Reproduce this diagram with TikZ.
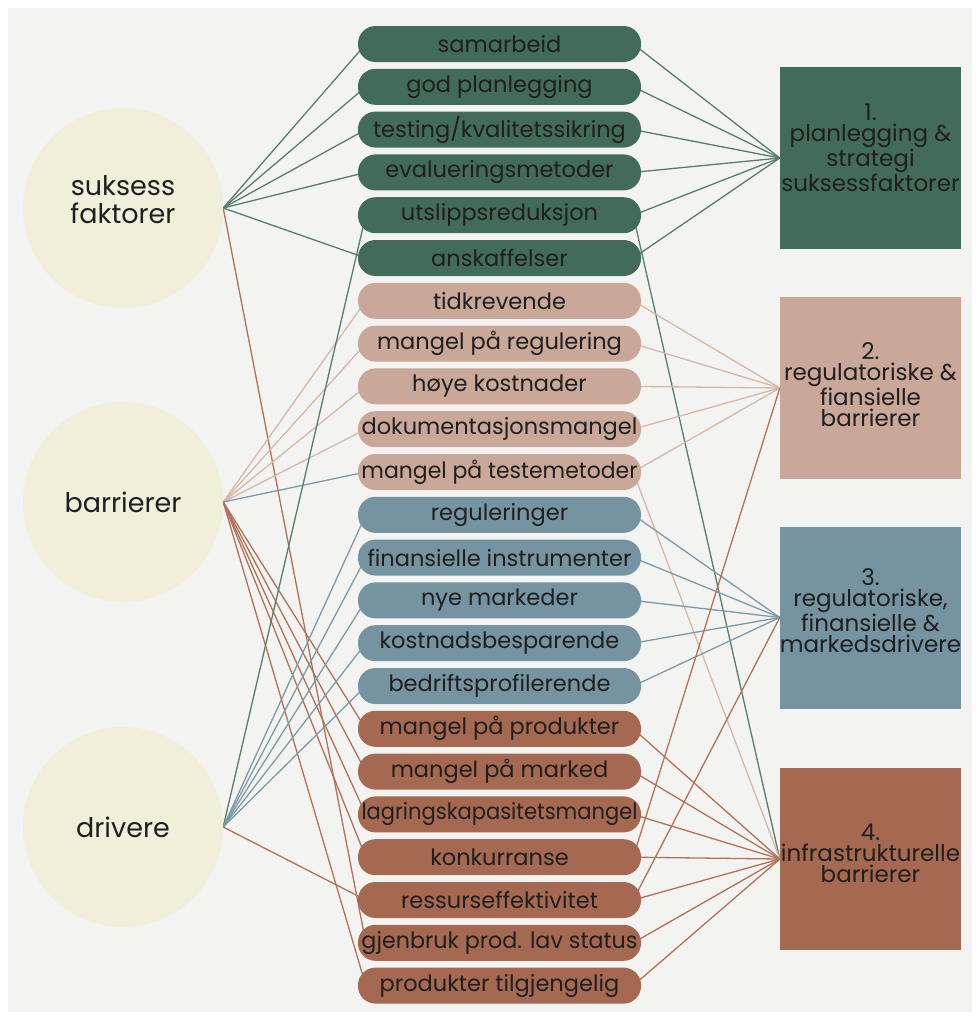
\documentclass[tikz,border=0pt]{standalone}
\usepackage{fontspec}
\setmainfont{Poppins}
\pgfdeclarelayer{bg}
\pgfdeclarelayer{lines}
\pgfsetlayers{bg,lines,main}
\definecolor{gr}{HTML}{426B59}
\definecolor{tn}{HTML}{C9A899}
\definecolor{bl}{HTML}{7593A1}
\definecolor{br}{HTML}{A56850}
\definecolor{lgr}{HTML}{587C6D}
\definecolor{ltn}{HTML}{D6B7A8}
\definecolor{lbl}{HTML}{7E9AA8}
\definecolor{lbr}{HTML}{B07259}
\definecolor{cream}{HTML}{F1EFD9}
\definecolor{paper}{HTML}{F3F4F2}
\definecolor{txt}{HTML}{1F1F1F}
\newcommand\fitw[1]{\setbox0\hbox{#1}\ifdim\wd0>276pt\resizebox{276pt}{\ht0}{#1}\else\box0\fi}
\tikzset{
  pill/.style={rectangle, rounded corners=17.5pt, minimum width=283pt, minimum height=36pt, inner sep=0pt, text=txt, font=\fontsize{22.5}{22}\selectfont},
  circ/.style={circle, fill=cream, minimum size=200pt, inner sep=0pt},
  circtxt/.style={align=center, text=txt, inner sep=0pt, font=\fontsize{27}{28}\selectfont},
  bigbox/.style={rectangle, minimum width=181pt, minimum height=182pt, inner sep=0pt},
  boxtxt/.style={align=center, text=txt, inner sep=0pt, font=\fontsize{23}{21}\selectfont},
  cg/.style={draw=lgr, line width=1.3pt},
  ct/.style={draw=ltn, line width=1.3pt},
  cb/.style={draw=lbl, line width=1.3pt},
  cr/.style={draw=lbr, line width=1.3pt}
}
\begin{document}
\begin{tikzpicture}[x=1pt,y=-1pt]
\useasboundingbox (0,0) rectangle (979,1018);
\begin{pgfonlayer}{bg}
\fill[white] (0,0) rectangle (979,1018);
\fill[paper] (8,8) rectangle (972,1012);
\end{pgfonlayer}
% circles
\node[circ] (suk) at (123,208) {};
\node[circ] (bar) at (123,502) {};
\node[circ] (dri) at (123,827) {};
\node[circtxt] (sukt) at (123,200) {suksess\\faktorer};
\node[circtxt] (bart) at (123,502) {barrierer};
\node[circtxt] (drit) at (123,827) {drivere};
% pills
\foreach \i/\t/\c in {0/samarbeid/gr, 1/god planlegging/gr, 2/{testing/kvalitetssikring}/gr, 3/evalueringsmetoder/gr, 4/utslippsreduksjon/gr, 5/anskaffelser/gr,
  6/tidkrevende/tn, 7/mangel på regulering/tn, 8/høye kostnader/tn, 9/dokumentasjonsmangel/tn, 10/mangel på testemetoder/tn,
  11/reguleringer/bl, 12/finansielle instrumenter/bl, 13/nye markeder/bl, 14/kostnadsbesparende/bl, 15/bedriftsprofilerende/bl,
  16/mangel på produkter/br, 17/mangel på marked/br, 18/lagringskapasitetsmangel/br, 19/konkurranse/br, 20/ressurseffektivitet/br, 21/gjenbruk prod. lav status/br, 22/produkter tilgjengelig/br}
  \node[pill, fill=\c] (p\i) at (499.5, {44+42.8*\i}) {\fitw{\t}};
% boxes
\node[bigbox, fill=gr] (b1) at (870.5,158) {};
\node[bigbox, fill=tn] (b2) at (870.5,388) {};
\node[bigbox, fill=bl] (b3) at (870.5,617.5) {};
\node[bigbox, fill=br] (b4) at (870.5,859) {};
\node[boxtxt] (b1t) at (870.5,148) {1.\\planlegging \&\\strategi\\suksessfaktorer};
\node[boxtxt] (b2t) at (870.5,385) {2.\\regulatoriske \&\\fiansielle\\barrierer};
\node[boxtxt] (b3t) at (870.5,611) {3.\\regulatoriske,\\finansielle \&\\markedsdrivere};
\node[boxtxt] (b4t) at (870.5,853) {4.\\infrastrukturelle\\barrierer};
% connectors
\begin{pgfonlayer}{lines}
\foreach \j in {0,1,2,3,5} \draw[cg] (suk.east) -- ([xshift=8pt]p\j.west);
\draw[cr] (suk.east) -- ([xshift=8pt]p21.west);
\foreach \j in {6,7,8,9} \draw[ct] (bar.east) -- ([xshift=8pt]p\j.west);
\draw[cb] (bar.east) -- ([xshift=8pt]p10.west);
\foreach \j in {16,17,18,19,22} \draw[cr] (bar.east) -- ([xshift=8pt]p\j.west);
\draw[cg] (dri.east) -- ([xshift=8pt]p4.west);
\foreach \j in {11,12,13,14,15} \draw[cb] (dri.east) -- ([xshift=8pt]p\j.west);
\draw[cr] (dri.east) -- ([xshift=8pt]p20.west);
% right side
\foreach \j in {0,1,2,3,4,5} \draw[cg] ([xshift=-8pt]p\j.east) -- (b1.west);
\draw[cg] ([xshift=-8pt]p4.east) -- (b4.west);
\foreach \j in {6,7,8,9,10} \draw[ct] ([xshift=-8pt]p\j.east) -- (b2.west);
\draw[ct] ([xshift=-8pt]p10.east) -- (b4.west);
\foreach \j in {11,12,13,14,15} \draw[cb] ([xshift=-8pt]p\j.east) -- (b3.west);
\foreach \j in {16,17,18,19,20,21,22} \draw[cr] ([xshift=-8pt]p\j.east) -- (b4.west);
\draw[cr] ([xshift=-8pt]p19.east) -- (b2.west);
\draw[cr] ([xshift=-8pt]p20.east) -- (b3.west);
\end{pgfonlayer}
\end{tikzpicture}
\end{document}
